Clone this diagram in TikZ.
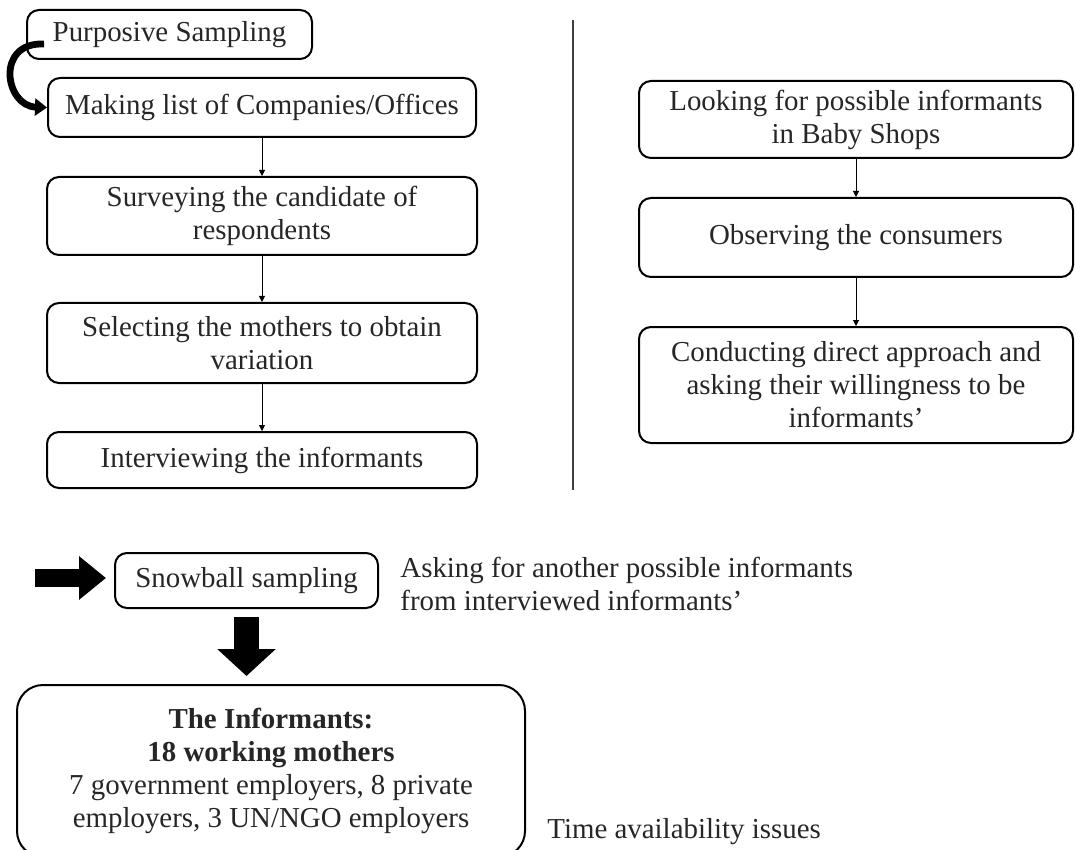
\documentclass[tikz,border=0pt]{standalone}
\usepackage{fontspec}
\setmainfont{Liberation Serif}
\usepackage{tikz}
\usetikzlibrary{arrows.meta,calc}
\newcommand{\boxfont}{\fontsize{14.45}{16.5}\selectfont}

\begin{document}
\begin{tikzpicture}[x=0.5pt, y=-0.5pt,
    stepbox/.style={draw, rounded corners=6pt, line width=1pt, align=center,
                    inner sep=0pt, font=\boxfont, text=black!85},
    arr/.style={-{Triangle[length=3pt,width=3pt]}, line width=0.5pt},
    curvearr/.style={-{Triangle[length=6pt,width=8.5pt]}, line width=3.4pt},
    blockarr/.style={-{Triangle[length=13.5pt,width=#1]}, line width=12.5pt},
    note/.style={align=left, inner sep=0pt, font=\boxfont, text=black!85}
]
\useasboundingbox (0,0) rectangle (1076,850);

% left column
\node[stepbox, minimum width=142.5pt, minimum height=24.5pt] (purp) at (169.5,34.5) {Purposive Sampling};
\node[stepbox, minimum width=214pt, minimum height=29.5pt] (list) at (262,107.5) {Making list of Companies/Offices};
\node[stepbox, minimum width=215pt, minimum height=39pt] (surv) at (262,216) {Surveying the candidate of\\respondents};
\node[stepbox, minimum width=215pt, minimum height=40pt] (sel) at (262,343) {Selecting the mothers to obtain\\variation};
\node[stepbox, minimum width=215pt, minimum height=28pt] (intv) at (262,460) {Interviewing the informants};

\draw[curvearr] ($(purp.south west)+(18,-16)$) .. controls (-5,42) and (5,106) .. (list.west);
\draw[arr] (list) -- (surv);
\draw[arr] (surv) -- (sel);
\draw[arr] (sel) -- (intv);

% divider
\draw[line width=0.6pt, black!75] (573,20) -- (573,490);

% right column
\node[stepbox, minimum width=217pt, minimum height=38.5pt] (look) at (856,119.5) {Looking for possible informants\\in Baby Shops};
\node[stepbox, minimum width=217pt, minimum height=39.5pt] (obs) at (856,237.5) {Observing the consumers};
\node[stepbox, minimum width=217pt, minimum height=58pt] (cond) at (856,385) {Conducting direct approach and\\asking their willingness to be\\informants’};

\draw[arr] (look) -- (obs);
\draw[arr] (obs) -- (cond);

% snowball part
\node[stepbox, minimum width=131.5pt, minimum height=27.5pt] (snow) at (246.5,580.5) {Snowball sampling};
\node[note, anchor=west] (ask) at (400,584) {Asking for another possible informants\\from interviewed informants’};
\coordinate (start) at (35,578);
\draw[blockarr=21pt, line width=9pt, shorten >=4pt] (start) -- (snow.west |- start);

\node[stepbox, rounded corners=13pt, minimum width=254pt, minimum height=86pt] (inf) at (271,771)
  {\textbf{The Informants:}\\\textbf{18 working mothers}\\7 government employers, 8 private\\employers, 3 UN/NGO employers};
\draw[blockarr=28.5pt, shorten <=4pt, shorten >=4pt] (snow.south) -- (snow.south |- inf.north);

\node[note, anchor=base west] (time) at (547,838) {Time availability issues};
\end{tikzpicture}
\end{document}
